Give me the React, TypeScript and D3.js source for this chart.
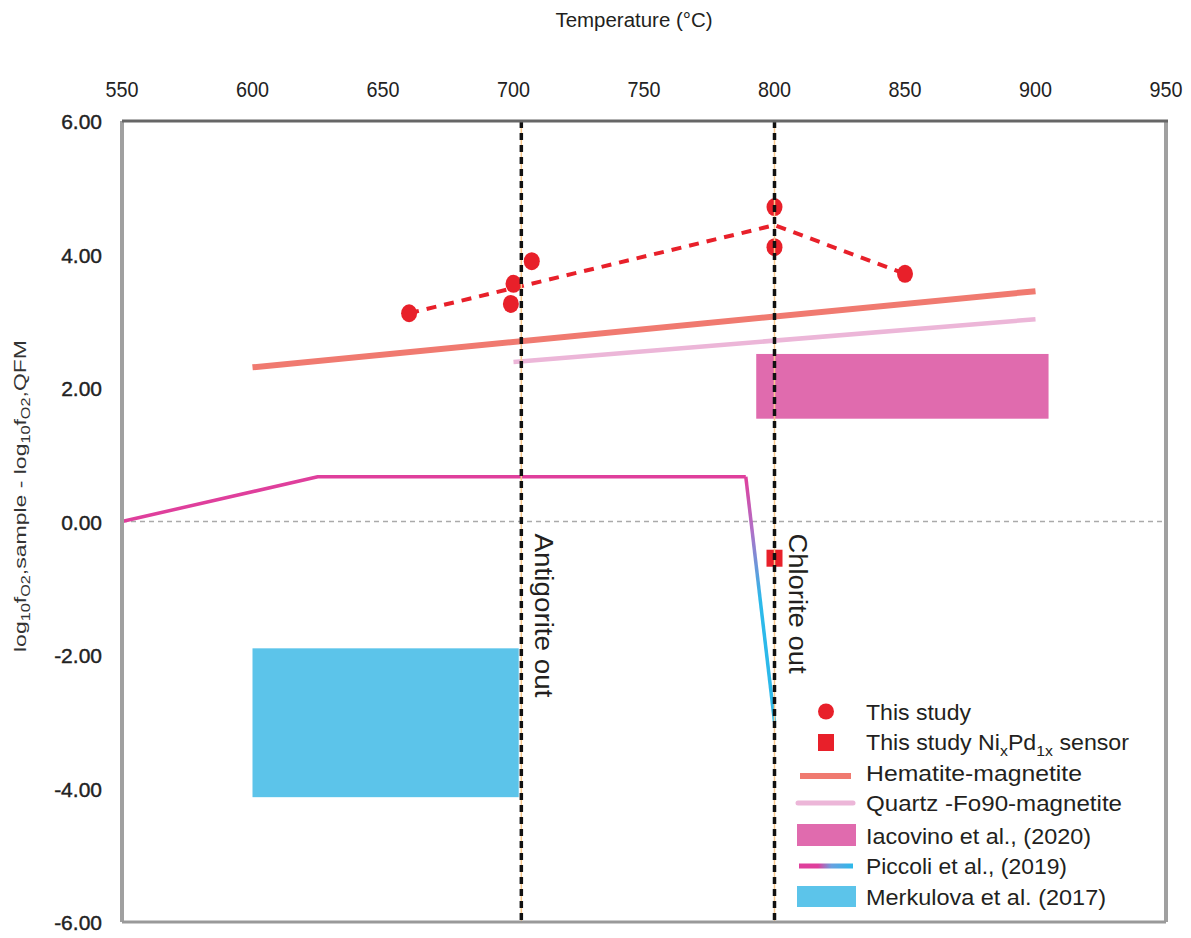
import React from 'react';
import * as d3 from 'd3';

const xTicks = [550, 600, 650, 700, 750, 800, 850, 900, 950];
const yTicks = [6, 4, 2, 0, -2, -4, -6];

// This study – measured points
const studyT = [660, 700, 699, 707, 800, 800, 850];
const studyY = [3.12, 3.56, 3.26, 3.9, 4.71, 4.11, 3.71];
// This study – trend (dashed)
const trendT = [660, 800, 850];
const trendY = [3.12, 4.44, 3.71];
// NixPd1-x sensor
const sensorT = [800];
const sensorY = [-0.55];
// Hematite-magnetite buffer
const hmT = [600, 900];
const hmY = [2.31, 3.45];
// Quartz-Fo90-magnetite buffer
const qfmT = [700, 900];
const qfmY = [2.39, 3.03];
// Iacovino et al. 2020 box
const iacT = [793, 905];
const iacY = [1.54, 2.51];
// Merkulova et al. 2017 box
const merT = [600, 702];
const merY = [-4.13, -1.9];
// Piccoli et al. 2019 path
const picT = [550, 625, 789, 800];
const picY = [0, 0.67, 0.67, -3.0];
// Reaction lines
const reactT = [703, 800];
const reactLabels = ['Antigorite out', 'Chlorite out'];
const reactLabelLen = [164, 140];

const FONT = 'Liberation Sans, Arial, sans-serif';
const TXT = '#231f20';
const RED = '#e8202a';
const HM = '#f07a70';
const QFM = '#ecb6d8';
const IAC = '#e06bae';
const MER = '#5cc4ea';
const MAG = '#df3f9c';
const CYAN = '#2cb9ea';

export default function App() {
  const W = 1191, H = 938;
  const L = 122, R = 1166, T = 121, B = 922;
  const x = d3.scaleLinear().domain([550, 950]).range([L, R]);
  const y = d3.scaleLinear().domain([-6, 6]).range([B, T]);
  const line = d3.line<[number, number]>().x(d => x(d[0])).y(d => y(d[1]));

  const zip = (a: number[], b: number[]) => a.map((v, i) => [v, b[i]] as [number, number]);
  const pic = zip(picT, picY);

  const legendRows = [
    { y: 711.5, label: 'This study', len: 105 },
    { y: 742, label: 'sensor', len: 263 },
    { y: 773, label: 'Hematite-magnetite', len: 216 },
    { y: 803, label: 'Quartz -Fo90-magnetite', len: 256 },
    { y: 836, label: 'Iacovino et al., (2020)', len: 225 },
    { y: 866, label: 'Piccoli et al., (2019)', len: 201 },
    { y: 897, label: 'Merkulova et al. (2017)', len: 240 },
  ];

  return (
    <svg width={W} height={H} style={{ position: 'absolute', left: 0, top: 0, background: '#fff' }} fontFamily={FONT}>
      <defs>
        <linearGradient id="picGrad" gradientUnits="userSpaceOnUse" x1={0} x2={0} y1={y(picY[2])} y2={y(picY[3])}>
          <stop offset="0" stopColor={MAG} />
          <stop offset="0.22" stopColor="#b070c8" />
          <stop offset="0.5" stopColor={CYAN} />
          <stop offset="1" stopColor={CYAN} />
        </linearGradient>
        <linearGradient id="picLeg" gradientUnits="userSpaceOnUse" x1={799} x2={853} y1={0} y2={0}>
          <stop offset="0" stopColor={MAG} />
          <stop offset="0.35" stopColor={MAG} />
          <stop offset="0.6" stopColor="#6aa0e0" />
          <stop offset="1" stopColor={CYAN} />
        </linearGradient>
      </defs>
      <rect x={0} y={0} width={W} height={H} fill="#fff" />

      {/* title */}
      <text x={634} y={27} fontSize={20} fill={TXT} textAnchor="middle" textLength={157} lengthAdjust="spacingAndGlyphs">Temperature (°C)</text>

      {/* top x tick labels */}
      {xTicks.map(t => (
        <text key={t} x={x(t)} y={97} fontSize={22} fill="#222" textAnchor="middle" textLength={33} lengthAdjust="spacingAndGlyphs">{t}</text>
      ))}

      {/* y tick labels */}
      {yTicks.map(t => (
        <text key={t} x={102} y={y(t) + 8} fontSize={21} fill="#222" stroke="#222" strokeWidth={0.4} textAnchor="end">{t.toFixed(2)}</text>
      ))}

      {/* y axis title */}
      <text transform={`translate(26,496) rotate(-90)`} fontSize={17} fill="#333" textAnchor="middle" textLength={312} lengthAdjust="spacingAndGlyphs">
        log<tspan fontSize={12} dy={4}>10</tspan><tspan dy={-4}>f</tspan><tspan fontSize={12} dy={4}>O2</tspan><tspan dy={-4}>,sample - log</tspan><tspan fontSize={12} dy={4}>10</tspan><tspan dy={-4}>f</tspan><tspan fontSize={12} dy={4}>O2</tspan><tspan dy={-4}>,QFM</tspan>
      </text>

      {/* zero line */}
      <line x1={L} x2={R} y1={y(0)} y2={y(0)} stroke="#aaa" strokeWidth={1.3} strokeDasharray="5 4" />

      {/* boxes */}
      <rect x={x(merT[0])} y={y(merY[1])} width={x(merT[1]) - x(merT[0])} height={y(merY[0]) - y(merY[1])} fill={MER} />
      <rect x={x(iacT[0])} y={y(iacY[1])} width={x(iacT[1]) - x(iacT[0])} height={y(iacY[0]) - y(iacY[1])} fill={IAC} />

      {/* buffers */}
      <path d={line(zip(hmT, hmY)) || ''} stroke={HM} strokeWidth={6} fill="none" />
      <path d={line(zip(qfmT, qfmY)) || ''} stroke={QFM} strokeWidth={4.5} fill="none" />

      {/* Piccoli */}
      <path d={line(pic.slice(0, 3)) || ''} stroke={MAG} strokeWidth={3.5} fill="none" strokeLinejoin="round" />
      <path d={line(pic.slice(2)) || ''} stroke="url(#picGrad)" strokeWidth={3.5} fill="none" />

      {/* trend */}
      <path d={line(zip(trendT, trendY)) || ''} stroke={RED} strokeWidth={4} strokeDasharray="10 8" fill="none" />

      {/* points */}
      {studyT.map((t, i) => (
        <ellipse key={i} cx={x(t)} cy={y(studyY[i])} rx={8} ry={9} fill={RED} />
      ))}
      {sensorT.map((t, i) => (
        <rect key={i} x={x(t) - 8} y={y(sensorY[i]) - 8.5} width={16} height={17} fill={RED} />
      ))}

      {/* reaction lines */}
      {reactT.map((t, i) => (
        <g key={i}>
          <line x1={x(t)} x2={x(t)} y1={T} y2={B} stroke="#f8c88c" strokeWidth={1.5} />
          <line x1={x(t)} x2={x(t)} y1={T} y2={B} stroke="#111" strokeWidth={3.5} strokeDasharray="7 5" />
          <text transform={`translate(${x(t) + 14},${y(0) + 12}) rotate(90)`} fontSize={26} fill={TXT} textLength={reactLabelLen[i]} lengthAdjust="spacingAndGlyphs">{reactLabels[i]}</text>
        </g>
      ))}

      {/* frame */}
      <line x1={L} x2={L} y1={T} y2={B} stroke="#a0a0a0" strokeWidth={4} />
      <line x1={R} x2={R} y1={T} y2={B} stroke="#a0a0a0" strokeWidth={4} />
      <line x1={L} x2={R} y1={B} y2={B} stroke="#999" strokeWidth={3} />
      <line x1={L} x2={R + 2} y1={T} y2={T} stroke="#666" strokeWidth={3} />

      {/* legend */}
      <g>
        <circle cx={826} cy={legendRows[0].y} r={8} fill={RED} />
        <rect x={818} y={legendRows[1].y - 8} width={16} height={17} fill={RED} />
        <line x1={800} x2={851} y1={legendRows[2].y + 3} y2={legendRows[2].y + 3} stroke={HM} strokeWidth={6} />
        <line x1={798} x2={853} y1={legendRows[3].y} y2={legendRows[3].y} stroke={QFM} strokeWidth={5} strokeLinecap="round" />
        <rect x={797} y={legendRows[4].y - 12} width={59} height={22} fill={IAC} />
        <line x1={799} x2={853} y1={legendRows[5].y} y2={legendRows[5].y} stroke="url(#picLeg)" strokeWidth={5} />
        <rect x={797} y={legendRows[6].y - 11} width={59} height={21} fill={MER} />
        {legendRows.map((r, i) =>
          i === 1 ? (
            <text key={i} x={866} y={r.y + 8} fontSize={22} fill={TXT} textLength={r.len} lengthAdjust="spacingAndGlyphs">
              This study Ni<tspan fontSize={15} dy={6}>x</tspan><tspan dy={-6}>Pd</tspan><tspan fontSize={15} dy={6}>1x</tspan><tspan dy={-6}> sensor</tspan>
            </text>
          ) : (
            <text key={i} x={866} y={r.y + 8} fontSize={22} fill={TXT} textLength={r.len} lengthAdjust="spacingAndGlyphs">{r.label}</text>
          )
        )}
      </g>
    </svg>
  );
}
